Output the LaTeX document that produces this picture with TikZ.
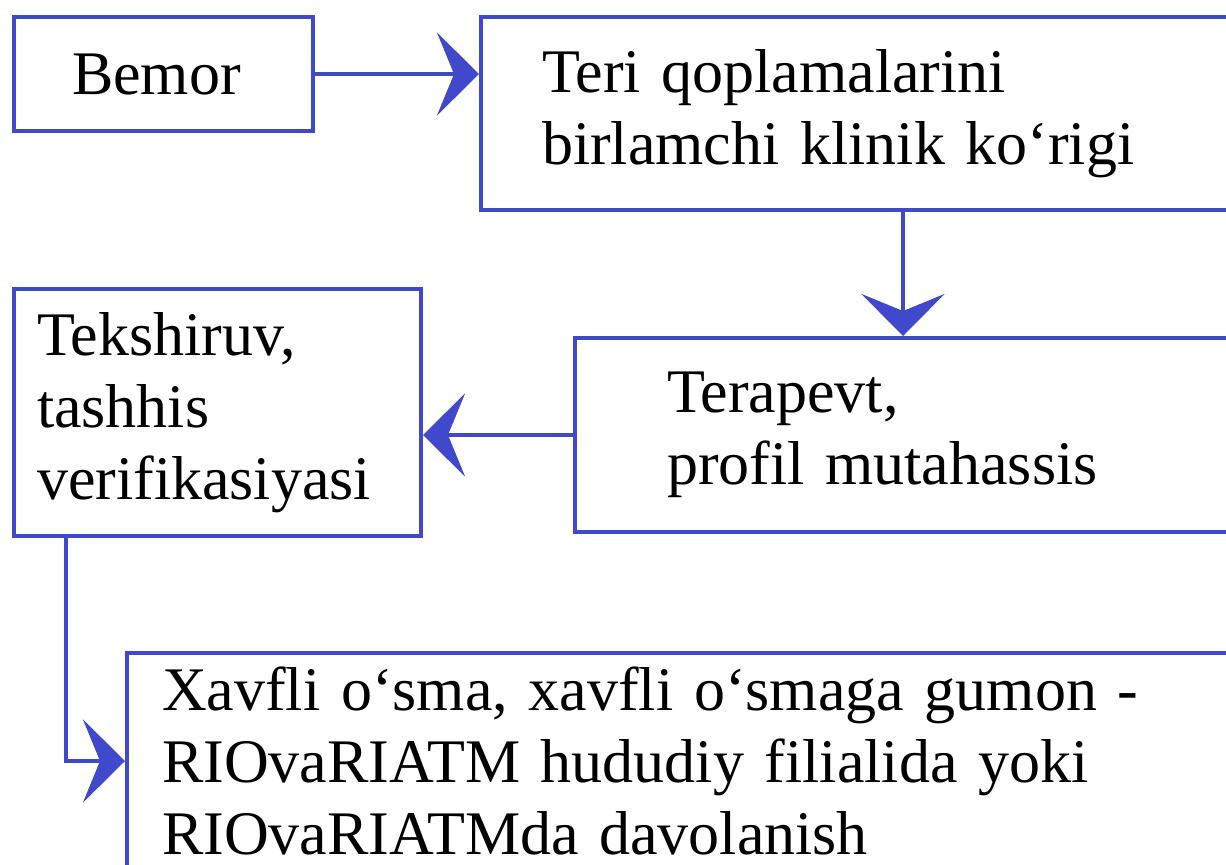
\documentclass[tikz,border=0pt]{standalone}
\usepackage{fontspec}
\setmainfont{Liberation Serif}
\usetikzlibrary{arrows.meta}
\definecolor{lineblue}{RGB}{64,72,204}
\begin{document}
\begin{tikzpicture}[x=0.5pt,y=-0.5pt,>={Stealth[length=21pt,width=41.5pt,inset=8.5pt]},
  box/.style={draw=lineblue,line width=2pt,anchor=north west,inner sep=0pt,align=left,
    font=\fontsize{31pt}{36pt}\selectfont},
  flow/.style={draw=lineblue,line width=2pt,->}]
\useasboundingbox (0,0) rectangle (1226,864);
\clip (0,0) rectangle (1226,864);
\fill[white] (0,0) rectangle (1226,864);
\node[box,text width=91.5pt,minimum width=149.5pt,minimum height=57pt] (bemor) at (12,15) {Bemor};
\node[box,text width=322.5pt,minimum width=383.5pt,minimum height=96.5pt] (korik) at (479,15)
  {Teri qoplamalarini\\birlamchi klinik ko‘rigi};
\node[box,text width=244.5pt,minimum width=336.5pt,minimum height=97pt] (terapevt) at (573,336)
  {Terapevt,\\profil mutahassis};
\node[box,text width=180.5pt,minimum width=203.5pt,minimum height=123.5pt] (tekshiruv) at (12,287)
  {Tekshiruv,\\tashhis\\verifikasiyasi};
\node[box,text width=525.5pt,minimum width=560.5pt,minimum height=108pt] (davolash) at (125,651)
  {Xavfli o‘sma, xavfli o‘smaga gumon -\\RIOvaRIATM hududiy filialida yoki\\RIOvaRIATMda davolanish};
% strelkalar
\draw[flow](bemor.east)--(bemor.east -| korik.west);
\draw[flow]([xshift=212pt]korik.south west)coordinate(d)--(d |- terapevt.north);
\draw[flow](terapevt.west)--(terapevt.west -| tekshiruv.east);
\draw[flow]([xshift=27pt]tekshiruv.south west)|-(davolash.west);
\end{tikzpicture}
\end{document}
